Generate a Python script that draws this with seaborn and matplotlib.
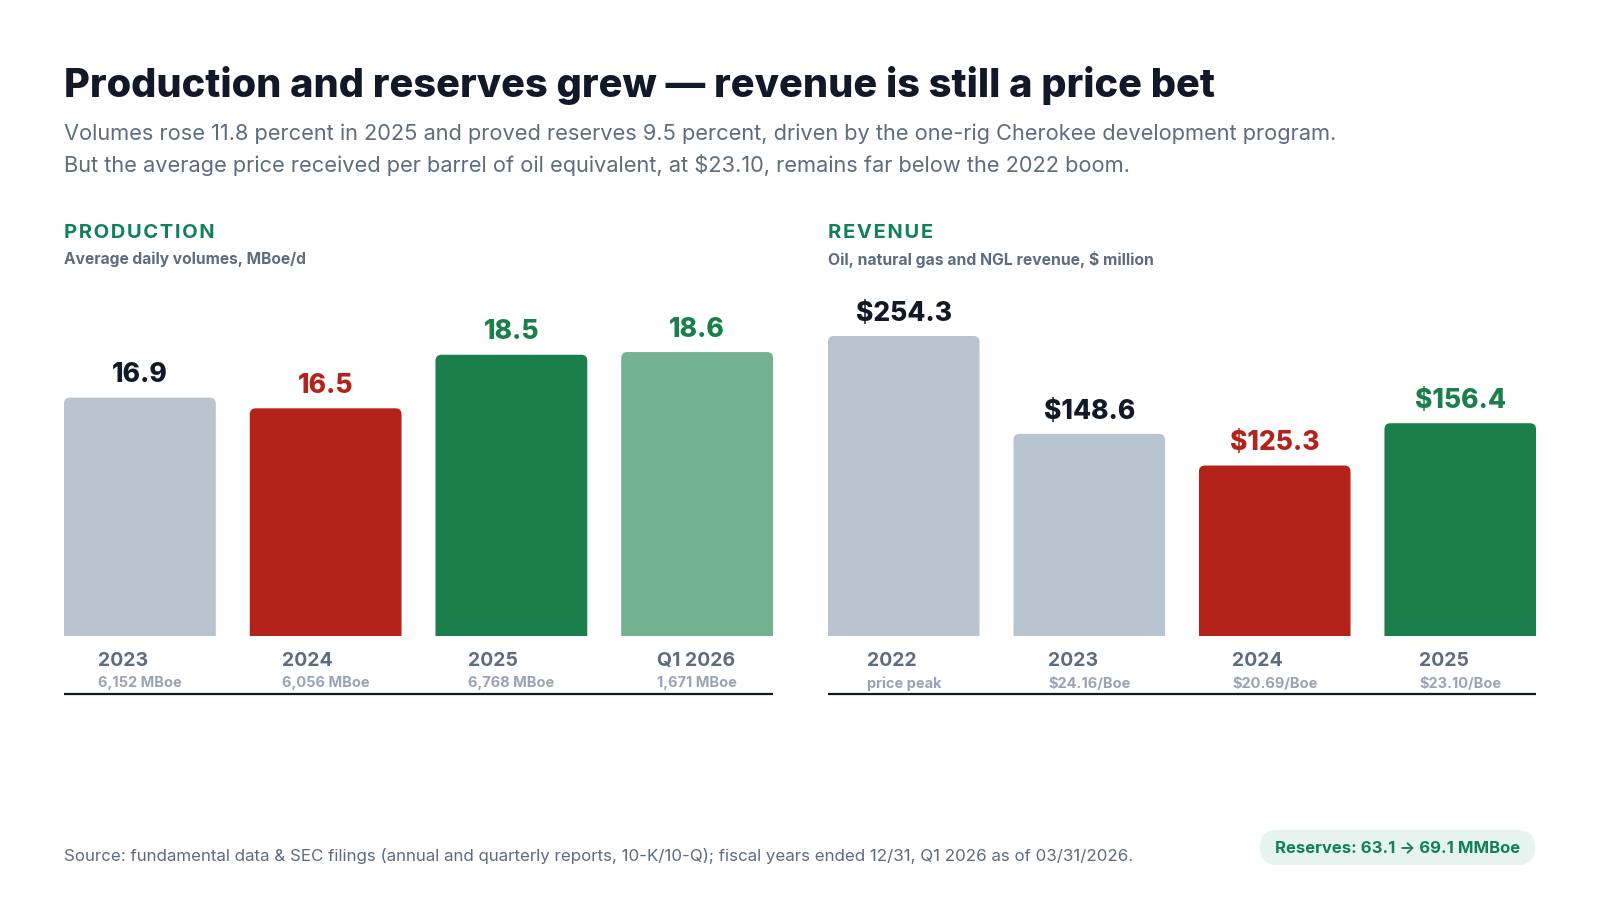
import matplotlib
matplotlib.use("Agg")
import matplotlib.pyplot as plt
from matplotlib.patches import FancyBboxPatch
import seaborn as sns

# ---------------- data ----------------
prod_periods = ["2023", "2024", "2025", "Q1 2026"]
prod_values = [16.9, 16.5, 18.5, 18.6]
prod_sub = ["6,152 MBoe", "6,056 MBoe", "6,768 MBoe", "1,671 MBoe"]

rev_years = ["2022", "2023", "2024", "2025"]
rev_values = [254.3, 148.6, 125.3, 156.4]
rev_sub = ["price peak", "$24.16/Boe", "$20.69/Boe", "$23.10/Boe"]

title = "Production and reserves grew \u2014 revenue is still a price bet"
subtitle1 = ("Volumes rose 11.8 percent in 2025 and proved reserves 9.5 percent, "
             "driven by the one-rig Cherokee development program.")
subtitle2 = ("But the average price received per barrel of oil equivalent, at $23.10, "
             "remains far below the 2022 boom.")
source = ("Source: fundamental data & SEC filings (annual and quarterly reports, 10-K/10-Q); "
          "fiscal years ended 12/31, Q1 2026 as of 03/31/2026.")
reserves_note = "Reserves: 63.1 \u2192 69.1 MMBoe"

# ---------------- style ----------------
GREY = "#b8c4d0"
RED = "#b3231a"
GREEN = "#1b7f4c"
LGREEN = "#72b28e"
INK = "#111827"
SLATE = "#5f6b80"
MUTED = "#9aa3b5"
HEAD = "#12805c"

prod_colors = [GREY, RED, GREEN, LGREEN]
prod_label_colors = [INK, RED, GREEN, GREEN]
rev_colors = [GREY, GREY, RED, GREEN]
rev_label_colors = [INK, INK, RED, GREEN]

sns.set_theme(style="white")
plt.rcParams["font.family"] = ["Inter", "DejaVu Sans"]
plt.rcParams["text.parse_math"] = False

W, H = 1600, 900
fig = plt.figure(figsize=(16, 9), dpi=100)
fig.patch.set_facecolor("white")


def fx(px):
    return px / W


def fy(py):
    return 1 - py / H


FONT = ["Inter", "DejaVu Sans"]

# header text
fig.text(fx(64), fy(97), title, fontsize=28.6, fontweight="heavy", color=INK,
         ha="left", va="baseline", family=FONT)
fig.text(fx(64), fy(140), subtitle1, fontsize=15.7, color=SLATE,
         ha="left", va="baseline", family=FONT)
fig.text(fx(64), fy(172), subtitle2, fontsize=15.7, color=SLATE,
         ha="left", va="baseline", family=FONT)

BAR_W = 152 / 186
AX_BOTTOM = 636
AX_TOP = 336
BAR_R = 6  # px


def spaced(s):
    return "\u200a".join(list(s))


def panel(left_px, width_px, head, subhead, cats, vals, subs, colors, lcolors, ylim, fmt,
          subsize):
    fig.text(fx(left_px), fy(233), spaced(head), fontsize=14.5, fontweight="bold",
             color=HEAD, ha="left", va="center", family=FONT)
    fig.text(fx(left_px), fy(259), subhead, fontsize=subsize, fontweight="bold",
             color=SLATE, ha="left", va="center", family=FONT)

    ax = fig.add_axes([fx(left_px), fy(AX_BOTTOM), width_px / W, (AX_BOTTOM - AX_TOP) / H])
    sns.barplot(x=cats, y=vals, hue=cats, palette=colors, legend=False,
                width=BAR_W, saturation=1, ax=ax, order=cats, hue_order=cats)
    ax.set_xlim(-BAR_W / 2, len(cats) - 1 + BAR_W / 2)
    ax.set_ylim(*ylim)
    ax.set_axis_off()

    xdpp = (ax.get_xlim()[1] - ax.get_xlim()[0]) / width_px
    ydpp = (ylim[1] - ylim[0]) / (AX_BOTTOM - AX_TOP)

    bars = list(ax.patches)
    for p, v, c, lc in zip(bars, vals, colors, lcolors):
        x0 = p.get_x()
        w = p.get_width()
        top = min(p.get_y() + p.get_height(), ylim[1])
        bottom = min(p.get_y(), ylim[0]) - 3 * BAR_R * ydpp
        p.set_visible(False)
        rb = FancyBboxPatch((x0, bottom), w, top - bottom,
                            boxstyle=f"round,pad=0,rounding_size={BAR_R * xdpp}",
                            mutation_aspect=ydpp / xdpp, fc=c, ec="none")
        ax.add_patch(rb)
        ax.annotate(fmt(v), xy=(x0 + w / 2, top), xytext=(0, 11),
                    textcoords="offset points", ha="center", va="baseline",
                    fontsize=19, fontweight="heavy", color=lc, family=FONT,
                    annotation_clip=False)

    for i, (cat, sub) in enumerate(zip(cats, subs)):
        st = ax.annotate(sub, xy=(i, ylim[0]), xytext=(0, -47.5 * 0.72),
                         textcoords="offset points", ha="center", va="center",
                         fontsize=10.5, fontweight="bold", color=MUTED, family=FONT,
                         annotation_clip=False)
        ax.annotate(cat, xy=(0, 0.5), xycoords=st, xytext=(0, 22.5 * 0.72),
                    textcoords="offset points", ha="left", va="center",
                    fontsize=14, fontweight="bold", color=SLATE, family=FONT,
                    annotation_clip=False)

    ax.plot([0, 1], [-(694 - AX_BOTTOM) / (AX_BOTTOM - AX_TOP)] * 2,
            transform=ax.transAxes, clip_on=False, color=INK, lw=1.6,
            solid_capstyle="butt")
    return ax


panel(64, 709, "PRODUCTION", "Average daily volumes, MBoe/d",
      prod_periods, prod_values, prod_sub, prod_colors, prod_label_colors,
      (8.0, 19.2), lambda v: f"{v:.1f}", 11.2)
panel(828, 708, "REVENUE", "Oil, natural gas and NGL revenue, $ million",
      rev_years, rev_values, rev_sub, rev_colors, rev_label_colors,
      (0, 220.5), lambda v: f"${v:.1f}", 11.3)

# footer
fig.text(fx(64), fy(856), source, fontsize=12.2, color=SLATE,
         ha="left", va="center", family=FONT)

pill_l, pill_r, pill_t, pill_b = 1260, 1535, 830, 865
ph = pill_b - pill_t
pill = FancyBboxPatch((fx(pill_l), fy(pill_b)), (pill_r - pill_l) / W, ph / H,
                      boxstyle=f"round,pad=0,rounding_size={(ph / 2) / W}",
                      mutation_aspect=W / H, transform=fig.transFigure,
                      fc="#e6f3ee", ec="none")
fig.add_artist(pill)
fig.text(fx((pill_l + pill_r) / 2), fy((pill_t + pill_b) / 2), reserves_note,
         fontsize=12, fontweight="bold", color=HEAD, ha="center", va="center",
         family=FONT)

fig.savefig("out.png", dpi=100, facecolor="white")
